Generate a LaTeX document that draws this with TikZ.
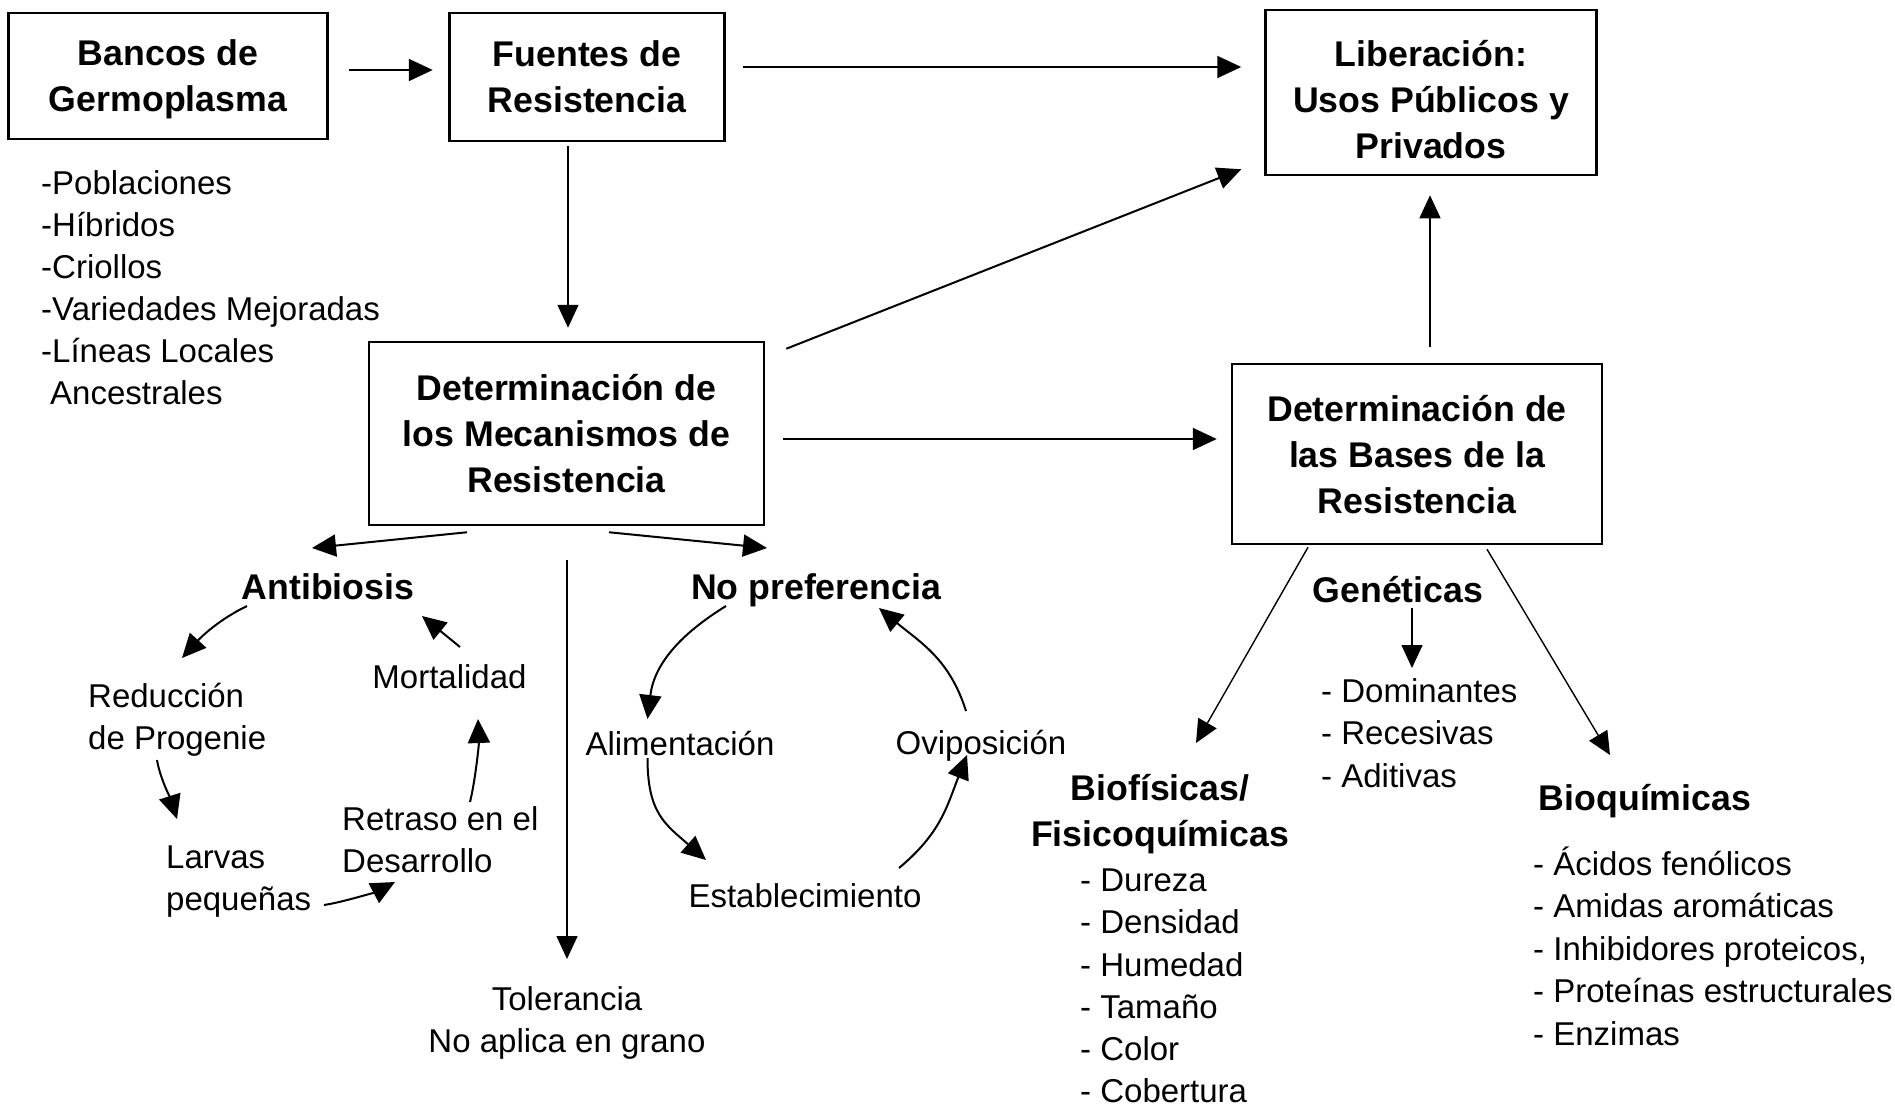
\documentclass[tikz,border=0pt]{standalone}
\usepackage{fontspec}
\setmainfont{Liberation Sans}
\usetikzlibrary{arrows.meta}
\tikzset{
  boxnode/.style={draw, line width=2.5pt, inner sep=0pt, align=center, text depth=0pt, font=\fontsize{35.7}{46}\selectfont\bfseries},
  reg/.style={inner sep=0pt, font=\fontsize{33}{42}\selectfont},
  bld/.style={inner sep=0pt, font=\fontsize{35.7}{46}\selectfont\bfseries},
  arr/.style={line width=2pt, -{Triangle[length=24pt,width=22pt]}},
  arrthin/.style={line width=1.4pt, -{Triangle[length=23pt,width=21pt]}},
}
\begin{document}
\begin{tikzpicture}[x=1pt,y=-1pt]
\fill[white] (0,0) rectangle (1895,1106);
\useasboundingbox (0,0) rectangle (1895,1106);

% boxes
\node[boxnode, minimum width=319pt, minimum height=126pt] (bancos) at (168,76) {Bancos de\\Germoplasma};
\node[boxnode, minimum width=275pt, minimum height=128pt] (fuentes) at (587,77) {Fuentes de\\Resistencia};
\node[boxnode, minimum width=331pt, minimum height=165pt] (lib) at (1431,92.5) {\rule{0pt}{40pt}Liberación:\\Usos Públicos y\\Privados};
\node[boxnode, minimum width=395pt, minimum height=183pt] (det) at (566.5,433.5) {Determinación de\\los Mecanismos de\\Resistencia};
\node[boxnode, minimum width=370pt, minimum height=180pt] (bases) at (1417,454) {Determinación de\\las Bases de la\\Resistencia};

% germplasm list
\node[reg, anchor=base west] (bl1) at (41,194) {-Poblaciones};
\node[reg, anchor=base west] (bl2) at (41,236) {-Híbridos};
\node[reg, anchor=base west] (bl3) at (41,278) {-Criollos};
\node[reg, anchor=base west] (bl4) at (41,320) {-Variedades Mejoradas};
\node[reg, anchor=base west] (bl5) at (41,362) {-Líneas Locales};
\node[reg, anchor=base west] (bl6) at (50,404) {Ancestrales};

% mechanism texts
\node[bld, anchor=base] (antib) at (328,599) {Antibiosis};
\node[bld, anchor=base] (nopref) at (816,599) {No preferencia};
\node[reg, anchor=base west] (reduc1) at (88,707) {Reducción};
\node[reg, anchor=base west] (reduc2) at (88,749) {de Progenie};
\node[reg, anchor=base] (mort) at (449.5,688) {Mortalidad};
\node[reg, anchor=base west] (larv1) at (166,868) {Larvas};
\node[reg, anchor=base west] (larv2) at (166,910) {pequeñas};
\node[reg, anchor=base west] (retr1) at (342,830) {Retraso en el};
\node[reg, anchor=base west] (retr2) at (342,872) {Desarrollo};
\node[reg, anchor=base] (alim) at (680,755) {Alimentación};
\node[reg, anchor=base] (ovip) at (981,754) {Oviposición};
\node[reg, anchor=base] (estab) at (805,907) {Establecimiento};
\node[reg, anchor=base] (tol1) at (567,1010) {Tolerancia};
\node[reg, anchor=base] (tol2) at (567,1052) {No aplica en grano};

% bases texts
\node[bld, anchor=base] (gen) at (1398,602) {Genéticas};
\node[reg, anchor=base west] (dom1) at (1321,702) {- Dominantes};
\node[reg, anchor=base west] (dom2) at (1321,744) {- Recesivas};
\node[reg, anchor=base west] (dom3) at (1321,787) {- Aditivas};
\node[bld, anchor=base] (biof1) at (1160,800) {Biofísicas/};
\node[bld, anchor=base] (biof2) at (1160,846) {Fisicoquímicas};
\node[reg, anchor=base west] (bf1) at (1080,891) {- Dureza};
\node[reg, anchor=base west] (bf2) at (1080,933) {- Densidad};
\node[reg, anchor=base west] (bf3) at (1080,976) {- Humedad};
\node[reg, anchor=base west] (bf4) at (1080,1018) {- Tamaño};
\node[reg, anchor=base west] (bf5) at (1080,1060) {- Color};
\node[reg, anchor=base west] (bf6) at (1080,1102) {- Cobertura};
\node[bld, anchor=base] (bioq) at (1645,810) {Bioquímicas};
\node[reg, anchor=base west] (bq1) at (1533,875) {- Ácidos fenólicos};
\node[reg, anchor=base west] (bq2) at (1533,917) {- Amidas aromáticas};
\node[reg, anchor=base west] (bq3) at (1533,960) {- Inhibidores proteicos,};
\node[reg, anchor=base west] (bq4) at (1533,1002) {- Proteínas estructurales};
\node[reg, anchor=base west] (bq5) at (1533,1045) {- Enzimas};

% box connectors
\draw[arr] ([shift={(20.5,-6)}]bancos.east) -- ([shift={(-15.5,-7)}]fuentes.west);
\draw[arr] ([shift={(17.5,-10)}]fuentes.east) -- ([shift={(-23,-25.5)}]lib.west);
\draw[arrthin] ([shift={(-19,4)}]fuentes.south) -- ([shift={(1.5,-13)}]det.north);
\draw[arr] ([shift={(21,8)}]det.north east) -- ([shift={(-23,-7)}]lib.south west);
\draw[arr] ([shift={(18,5.5)}]det.east) -- ([shift={(-14,-15)}]bases.west);
\draw[arrthin] ([shift={(13,-16)}]bases.north) -- ([shift={(-1,19)}]lib.south);

% mechanisms
\draw[arr] ([shift={(-99.5,6)}]det.south) -- ([shift={(-16,-51)}]antib.base);
\draw[arr] ([shift={(42.5,6)}]det.south) -- ([shift={(-49,-51)}]nopref.base);
\draw[arrthin] ([shift={(0.5,34)}]det.south) -- ([shift={(0,-51)}]tol1.base);

% antibiosis cycle
\draw[arr] ([shift={(-81,7)}]antib.base) .. controls (220,619) and (202,636) .. ([shift={(94,-49)}]reduc1.base west);
\draw[arr] ([shift={(69,11)}]reduc2.base west) .. controls (160,778) and (171,800) .. ([shift={(11,-49)}]larv1.base west);
\draw[arr] ([shift={(158,-5)}]larv2.base west) .. controls (344,902) and (378,891) .. ([shift={(53,10)}]retr2.base west);
\draw[arr] ([shift={(128,-28)}]retr1.base west) .. controls (475,782) and (479,745) .. ([shift={(28.5,31)}]mort.base);
\draw[arr] ([shift={(10.5,-41)}]mort.base) -- ([shift={(94,17)}]antib.base);

% no preferencia cycle
\draw[arr] ([shift={(-90,7)}]nopref.base) .. controls (679,635) and (654,665) .. ([shift={(-32.5,-36)}]alim.base);
\draw[arr] ([shift={(-32.5,3)}]alim.base) .. controls (647.5,813) and (665,824) .. ([shift={(-99,-47)}]estab.base);
\draw[arr] ([shift={(94,-39)}]estab.base) .. controls (941,833) and (947,806) .. ([shift={(-14,1)}]ovip.base);
\draw[arr] ([shift={(-15,-43)}]ovip.base) .. controls (949.5,659) and (921,643) .. ([shift={(63,9)}]nopref.base);

% bases connectors
\draw[arrthin] ([shift={(-109,2)}]bases.south) -- ([shift={(36,-57)}]biof1.base);
\draw[arrthin] ([shift={(70,4)}]bases.south) -- ([shift={(-35,-55)}]bioq.base);
\draw[arrthin] ([shift={(14,6)}]gen.base) -- ([shift={(91,-34)}]dom1.base west);
\end{tikzpicture}
\end{document}
